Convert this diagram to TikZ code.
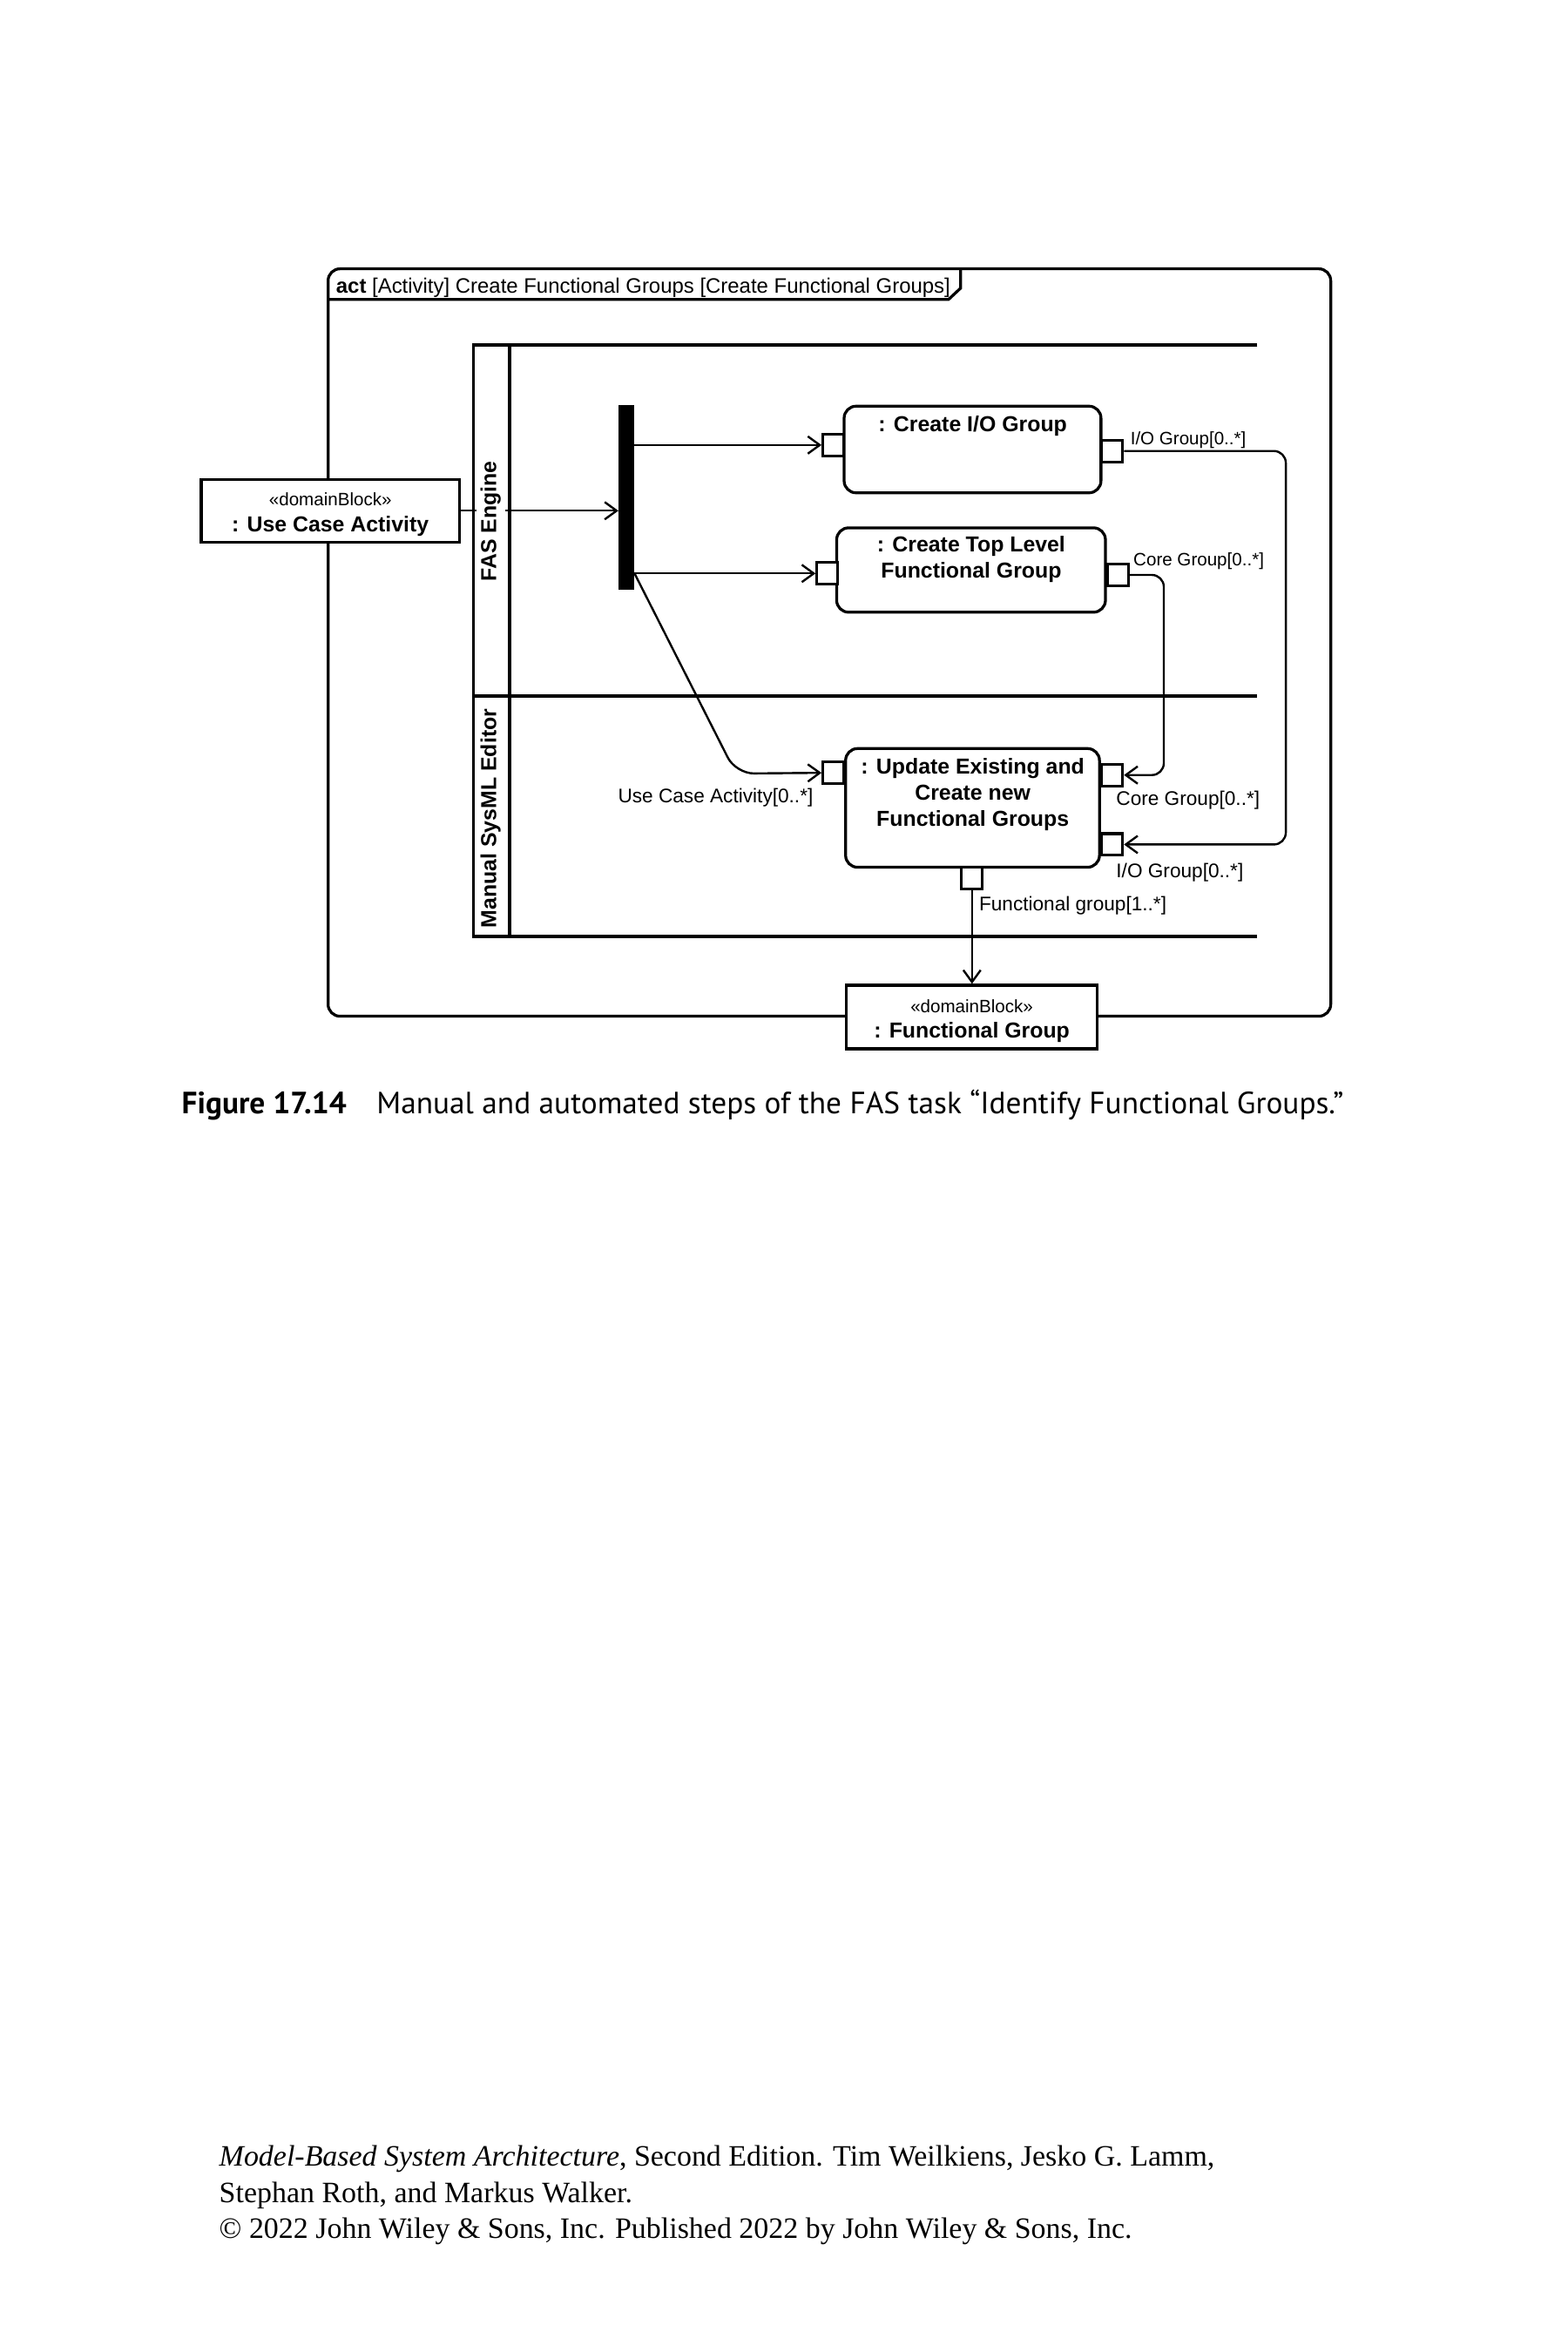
\documentclass[tikz,border=0pt]{standalone}
\usepackage{fontspec}
\setmainfont{Liberation Sans}
\newfontfamily\capfont{PT Sans}
\newfontfamily\serifont{Liberation Serif}
\usetikzlibrary{arrows.meta}
\tikzset{
  boxline/.style={line width=0.95pt},
  block/.style={draw, fill=white, boxline, inner sep=0, align=center,
    font=\fontsize{7.25}{8.5}\selectfont\bfseries},
  action/.style={draw, fill=white, boxline, rounded corners=4pt, inner sep=0},
  acttext/.style={anchor=north, inner sep=0, yshift=-3.5pt, align=center,
    font=\fontsize{7.25}{8.7}\selectfont\bfseries},
  pinbox/.style={draw, fill=white, line width=0.9pt, minimum width=7pt, minimum height=7.25pt, inner sep=0},
  flow/.style={line width=0.7pt, rounded corners=4pt, -{Straight Barb[length=4pt,width=5.8pt]}},
  smalllbl/.style={inner sep=0, font=\fontsize{6}{7}\selectfont},
  lbl/.style={inner sep=0, font=\fontsize{6.6}{7.5}\selectfont},
  lanelbl/.style={rotate=90, fill=white, inner sep=1.5pt, font=\fontsize{7.25}{8}\selectfont\bfseries},
  laneline/.style={line width=1.15pt},
}
\newcommand{\stereo}[1]{{\fontsize{6}{8.5}\selectfont\mdseries\rule{0pt}{6.9pt}«#1»}}
\begin{document}
\begin{tikzpicture}[x=0.5pt,y=-0.5pt]
\useasboundingbox (0,0) rectangle (1050,1575);
\fill[white] (0,0) rectangle (1050,1575);
\begin{scope}[xshift=0.46pt, xscale=1.0036]
% activity frame
\draw[boxline, rounded corners=4pt] (218,180) -- (887,180) -- (887,680.5) -- (218,680.5) -- cycle;
\draw[boxline] (218,200.5) -- (632,200.5) -- (640,193) -- (640,180);
\node[anchor=west, inner sep=0, font=\fontsize{6.98}{8}\selectfont] (hdr) at (223,192.5)
  {\textbf{act} [Activity] Create Functional Groups [Create Functional Groups]};

% swimlanes
\draw[laneline] (838,231) -- (315,231) -- (315,627) -- (838,627);
\draw[laneline] (315,466) -- (838,466);
\draw[line width=1pt] (339,231) -- (339,627);

% nodes
\node[block, minimum width=86.5pt, minimum height=21pt] (uca) at (219.5,342)
  {\stereo{domainBlock}\\: Use Case Activity};
\node[fill=black, minimum width=5pt, minimum height=62pt, inner sep=0] (fork) at (417,333) {};

\draw[flow] (uca.east) -- (fork.west |- uca.east);

\node[lanelbl] (lane1) at (326.5,349) {FAS Engine};
\node[lanelbl] (lane2) at (326.5,548) {Manual SysML Editor};

\node[action, minimum width=86pt, minimum height=29pt,
  label={[acttext]north:{: Create I/O Group}}] (io) at (648,301) {};
\node[action, minimum width=90pt, minimum height=28.25pt,
  label={[acttext, yshift=0.3pt]north:{: Create Top Level\\Functional Group}}] (tl) at (647,381.7) {};
\node[action, minimum width=85pt, minimum height=39.75pt,
  label={[acttext]north:{: Update Existing and\\Create new\\Functional Groups}}] (up) at (648,541) {};
\node[block, minimum width=84pt, minimum height=21.25pt] (fg) at (647.5,681)
  {\stereo{domainBlock}\\: Functional Group};

% pins
\node[pinbox] (iol) at (555,298) {};
\node[pinbox] (ior) at (741,302) {};
\node[pinbox] (tll) at (551,384) {};
\node[pinbox] (tlr) at (745,385) {};
\node[pinbox] (upl) at (555,517.5) {};
\node[pinbox] (urt) at (741,519) {};
\node[pinbox] (urb) at (741,565.5) {};
\node[pinbox] (ubot) at (647.5,588) {};

% flows
\draw[flow] (fork.east |- iol) -- (iol.west);
\draw[flow] (fork.east |- tll) -- (tll.west);
\coordinate (bend) at (490,518);
\draw[flow, rounded corners=6pt] (fork.east |- tll) -- (bend) -- (upl.west);
\draw[flow] (tlr.east) -- ++(22.6,0) |- (urt.east);
\draw[flow] (ior.east) -- ++(108,0) |- (urb.east);
\draw[flow] (ubot.south) -- (fg.north);

% pin labels
\node[smalllbl, anchor=west] (l1) at (753,294.5) {I/O Group[0..*]};
\node[smalllbl, anchor=west] (l2) at (755,376) {Core Group[0..*]};
\node[lbl, anchor=east] (l3) at (542,534) {Use Case Activity[0..*]};
\node[lbl, anchor=west] (l4) at (743.5,536) {Core Group[0..*]};
\node[lbl, anchor=west] (l5) at (743.5,584.5) {I/O Group[0..*]};
\node[lbl, anchor=west] (l6) at (652,606.5) {Functional group[1..*]};

% caption
\node[anchor=base west, inner sep=0, font=\capfont\bfseries\fontsize{10.3}{12}\selectfont] (capn) at (120,746) {Figure 17.14};
\node[anchor=base west, inner sep=0, font=\capfont\fontsize{10.3}{12}\selectfont] (capt) at (250,746)
  {Manual and automated steps of the FAS task “Identify Functional Groups.”};

% footer
\node[anchor=base west, inner sep=0, align=left, font=\serifont\fontsize{9.9}{12.1}\selectfont] (foot) at (145,1499)
  {\textit{Model-Based System Architecture}, Second Edition. Tim Weilkiens, Jesko G. Lamm,\\
   Stephan Roth, and Markus Walker.\\
   © 2022 John Wiley \& Sons, Inc. Published 2022 by John Wiley \& Sons, Inc.};
\end{scope}
\end{tikzpicture}
\end{document}
